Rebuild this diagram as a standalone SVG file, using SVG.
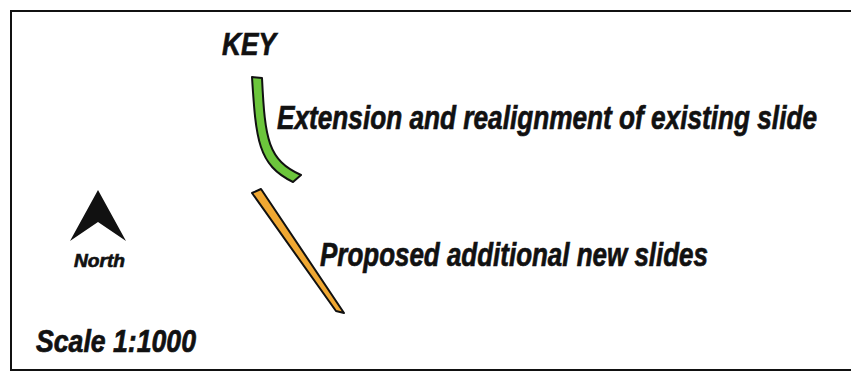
<svg xmlns="http://www.w3.org/2000/svg" width="851" height="372" viewBox="0 0 851 372">
<style>
.t{font-family:"Liberation Sans",Arial,sans-serif;font-weight:bold;font-style:italic;fill:#111;stroke:#111;stroke-width:0.7}
.sym{stroke:#111;stroke-width:2;stroke-linejoin:round}
</style>
<rect x="0" y="0" width="851" height="372" fill="#fff"/>
<rect x="11" y="11" width="850" height="359" fill="none" stroke="#111" stroke-width="2"/>
<g id="key"><text class="t" x="222" y="55" font-size="31" textLength="54" lengthAdjust="spacingAndGlyphs">KEY</text></g>
<g id="north">
<polygon points="98,190 126,241 98,222 70,241" fill="#111"/>
<text class="t" x="74" y="267" font-size="19" textLength="51" lengthAdjust="spacingAndGlyphs">North</text>
</g>
<g id="scale"><text class="t" x="36" y="352" font-size="31" textLength="160" lengthAdjust="spacingAndGlyphs">Scale 1:1000</text></g>
<g id="existing">
<path class="sym" d="M252,77 L262,78 C265,140 268,160 301,175 L293,182 C258,165 256,140 252,77 Z" fill="#6cc63c"/>
<text class="t" x="277" y="129" font-size="34" textLength="540" lengthAdjust="spacingAndGlyphs">Extension and realignment of existing slide</text>
</g>
<g id="proposed">
<polygon class="sym" points="252,193 261,189 344,313 336,311" fill="#f0a833"/>
<text class="t" x="320" y="266" font-size="34" textLength="388" lengthAdjust="spacingAndGlyphs">Proposed additional new slides</text>
</g>
</svg>
